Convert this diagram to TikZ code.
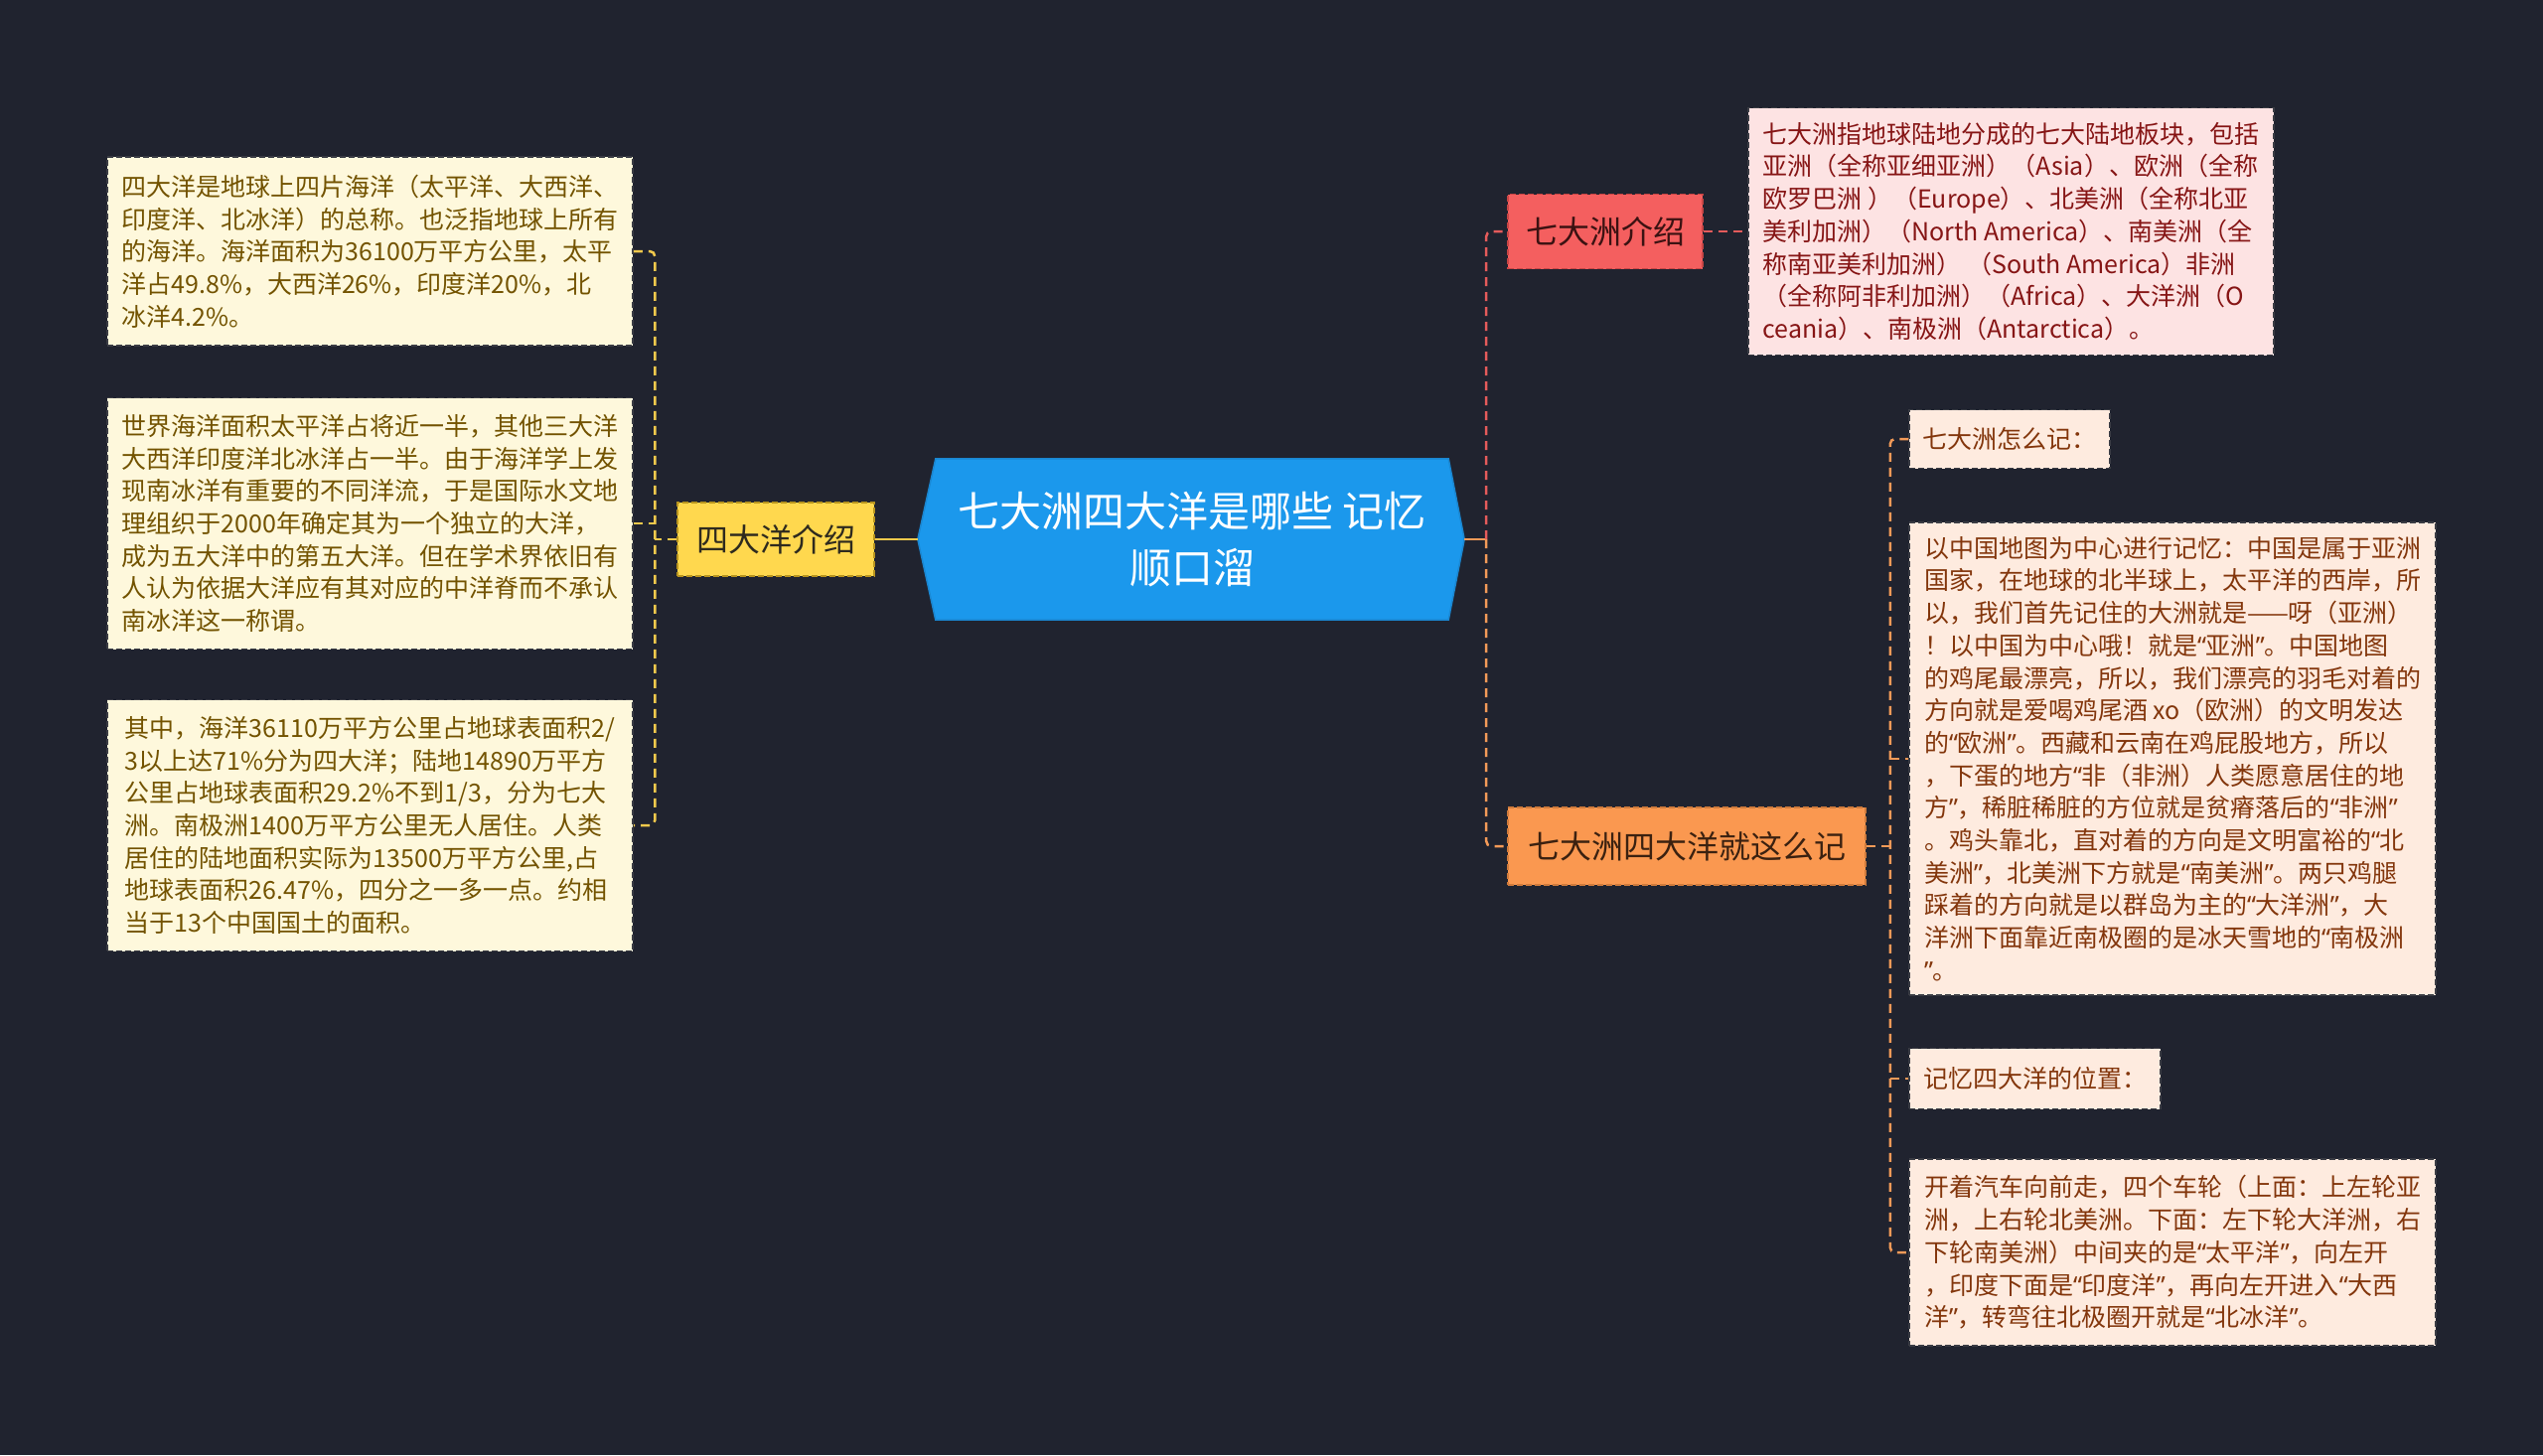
\documentclass[tikz,border=0pt]{standalone}
\usepackage{fontspec}
\setmainfont{Noto Sans CJK SC}
\newfontfamily\qfont{Noto Sans}
\usetikzlibrary{calc,backgrounds}
\definecolor{bg}{HTML}{20232F}
\definecolor{titlefill}{HTML}{1B98EC}
\definecolor{titleline}{HTML}{1A86D0}
\definecolor{yfill}{HTML}{FFD84E}
\definecolor{yline}{HTML}{F2C94C}
\definecolor{ydraw}{HTML}{B8941E}
\definecolor{ytext}{HTML}{2E2A1E}
\definecolor{rfill}{HTML}{F45F5F}
\definecolor{rline}{HTML}{E55B5B}
\definecolor{rdraw}{HTML}{C84545}
\definecolor{rtext}{HTML}{3B1212}
\definecolor{ofill}{HTML}{FA9850}
\definecolor{oline}{HTML}{F39A58}
\definecolor{odraw}{HTML}{CF7A3C}
\definecolor{otext}{HTML}{3B2110}
\definecolor{lyfill}{HTML}{FEF8DC}
\definecolor{lytext}{HTML}{735300}
\definecolor{lrfill}{HTML}{FDE3E3}
\definecolor{lrtext}{HTML}{861515}
\definecolor{lofill}{HTML}{FEEBDF}
\definecolor{lotext}{HTML}{83360C}
\definecolor{leafdraw}{HTML}{3A3C44}
\newcommand{\myfs}[2]{\fontsize{#1}{#2}\selectfont}
\newcommand{\oq}{{\qfont “}}
\newcommand{\cq}{{\qfont ”}}
\begin{document}
\begin{tikzpicture}[x=1pt,y=-1pt,
  leafbase/.style={align=left, inner sep=0pt, font=\myfs{25}{32.7}, draw=leafdraw, line width=1.5pt, dash pattern=on 6pt off 3pt},
  leafy/.style={leafbase, fill=lyfill, text=lytext},
  leafr/.style={leafbase, fill=lrfill, text=lrtext},
  leafo/.style={leafbase, fill=lofill, text=lotext},
  topic/.style={font=\myfs{32}{40}, inner sep=0pt, line width=1.5pt, dash pattern=on 6pt off 3pt},
  title/.style={font=\myfs{42}{57}, text=white, align=center, inner sep=0pt},
  conn/.style={line width=2.5pt, dash pattern=on 9pt off 6pt},
  solidconn/.style={line width=2.5pt}]
\useasboundingbox (0,0) rectangle (2560,1465);
\begin{scope}[on background layer]
\fill[bg] (0,0) rectangle (2560,1465);
\end{scope}

% central
\node[title, minimum width=516pt, minimum height=162pt] (c) at (1200,543) {七大洲四大洋是哪些 记忆\\顺口溜};
\coordinate (cL) at ($(c.west)+(-18,0)$);
\coordinate (cR) at ($(c.east)+(16,0)$);
\begin{scope}[on background layer]
\filldraw[fill=titlefill, draw=titleline, line width=1.5pt] (c.north west) -- (c.north east) -- (cR) -- (c.south east) -- (c.south west) -- (cL) -- cycle;
\end{scope}

% left branch
\node[topic, fill=yfill, draw=ydraw, text=ytext, minimum width=198pt, minimum height=74pt] (y) at (781,543) {四大洋介绍};
\node[leafy, minimum width=529pt, minimum height=190pt] (l1) at (372.5,253) {四大洋是地球上四片海洋（太平洋、大西洋、\\印度洋、北冰洋）的总称。也泛指地球上所有\\的海洋。海洋面积为36100万平方公里，太平\\洋占49.8\%，大西洋26\%，印度洋20\%，北\\冰洋4.2\%。};
\node[leafy, minimum width=529pt, minimum height=253pt] (l2) at (372.5,527) {世界海洋面积太平洋占将近一半，其他三大洋\\大西洋印度洋北冰洋占一半。由于海洋学上发\\现南冰洋有重要的不同洋流，于是国际水文地\\理组织于2000年确定其为一个独立的大洋，\\成为五大洋中的第五大洋。但在学术界依旧有\\人认为依据大洋应有其对应的中洋脊而不承认\\南冰洋这一称谓。};
\node[leafy, minimum width=529pt, minimum height=253pt] (l3) at (372.5,831) {其中，海洋36110万平方公里占地球表面积2/\\3以上达71\%分为四大洋；陆地14890万平方\\公里占地球表面积29.2\%不到1/3，分为七大\\洲。南极洲1400万平方公里无人居住。人类\\居住的陆地面积实际为13500万平方公里,占\\地球表面积26.47\%，四分之一多一点。约相\\当于13个中国国土的面积。};

\draw[solidconn, yline] (cL) -- (y.east);
\coordinate (bl) at ($(y.west)+(-22,0)$);
\draw[conn, yline] (y.west) -- (bl);
\draw[conn, yline, rounded corners=5pt] (l1.east) -- (l1.east -| bl) -- (l3.east -| bl) -- (l3.east);
\draw[conn, yline] (l2.east) -- (l2.east -| bl);

% right branch
\node[topic, fill=rfill, draw=rdraw, text=rtext, minimum width=196pt, minimum height=75pt] (r) at (1616,233) {七大洲介绍};
\node[topic, fill=ofill, draw=odraw, text=otext, minimum width=360pt, minimum height=78pt] (o) at (1698,852) {七大洲四大洋就这么记};

\node[leafr, minimum width=529pt, minimum height=249pt] (r1) at (2024.5,233) {七大洲指地球陆地分成的七大陆地板块，包括\\亚洲（全称亚细亚洲）（Asia）、欧洲（全称\\欧罗巴洲 ）（Europe）、北美洲（全称北亚\\美利加洲）（North America）、南美洲（全\\称南亚美利加洲） （South America）非洲\\（全称阿非利加洲）（Africa）、大洋洲（O\\ceania）、南极洲（Antarctica）。};

\node[leafo, minimum width=202pt, minimum height=59pt] (r2) at (2023,442) {七大洲怎么记：};
\node[leafo, minimum width=530pt, minimum height=476pt] (r3) at (2187,764) {以中国地图为中心进行记忆：中国是属于亚洲\\国家，在地球的北半球上，太平洋的西岸，所\\以，我们首先记住的大洲就是——呀（亚洲）\\！以中国为中心哦！就是\oq 亚洲\cq 。中国地图\\的鸡尾最漂亮，所以，我们漂亮的羽毛对着的\\方向就是爱喝鸡尾酒 xo（欧洲）的文明发达\\的\oq 欧洲\cq 。西藏和云南在鸡屁股地方，所以\\，下蛋的地方\oq 非（非洲）人类愿意居住的地\\方\cq ，稀脏稀脏的方位就是贫瘠落后的\oq 非洲\cq \\。鸡头靠北，直对着的方向是文明富裕的\oq 北\\美洲\cq ，北美洲下方就是\oq 南美洲\cq 。两只鸡腿\\踩着的方向就是以群岛为主的\oq 大洋洲\cq ，大\\洋洲下面靠近南极圈的是冰天雪地的\oq 南极洲\\\cq 。};
\node[leafo, minimum width=253pt, minimum height=61pt] (r4) at (2048.5,1086) {记忆四大洋的位置：};
\node[leafo, minimum width=530pt, minimum height=188pt] (r5) at (2187,1261) {开着汽车向前走，四个车轮（上面：上左轮亚\\洲，上右轮北美洲。下面：左下轮大洋洲，右\\下轮南美洲）中间夹的是\oq 太平洋\cq ，向左开\\，印度下面是\oq 印度洋\cq ，再向左开进入\oq 大西\\洋\cq ，转弯往北极圈开就是\oq 北冰洋\cq 。};

\coordinate (br) at ($(cR)+(22,0)$);
\draw[solidconn, oline] (cR) -- (br);
\draw[conn, rline, rounded corners=5pt] (br) -- (br |- r.west) -- (r.west);
\draw[conn, oline, rounded corners=5pt] (br) -- (br |- o.west) -- (o.west);
\draw[conn, rline] (r.east) -- (r1.west);

\coordinate (bo) at ($(o.east)+(24,0)$);
\draw[conn, oline] (o.east) -- (bo);
\draw[conn, oline, rounded corners=5pt] (r2.west) -- (r2.west -| bo) -- (r5.west -| bo) -- (r5.west);
\draw[conn, oline] (r3.west -| bo) -- (r3.west);
\draw[conn, oline] (r4.west -| bo) -- (r4.west);
\end{tikzpicture}
\end{document}
